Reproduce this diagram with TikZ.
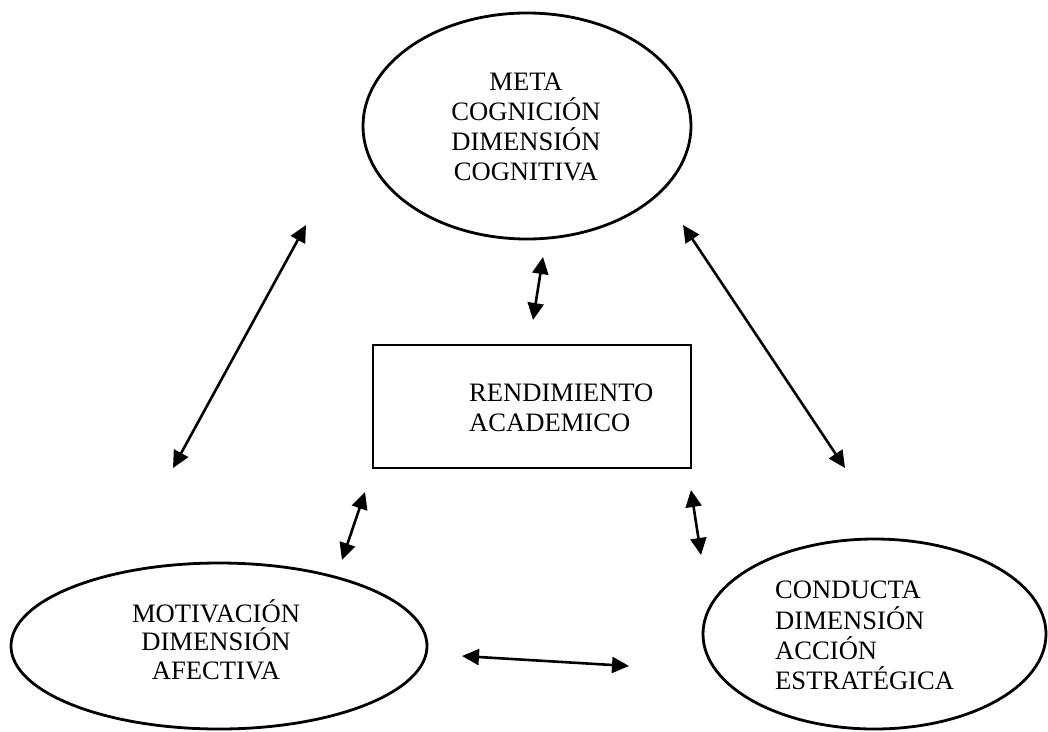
\documentclass[tikz,border=0pt]{standalone}
\usepackage{fontspec}
\setmainfont{Liberation Serif}
\usetikzlibrary{shapes.geometric,arrows.meta}
\tikzset{
  oval/.style={draw, ellipse, line width=2.8pt, inner sep=0pt},
  boxnode/.style={draw, rectangle, line width=2.8pt, inner sep=0pt},
  lbl/.style={inner sep=0pt, font=\fontsize{26.6}{30.2}\selectfont},
  link/.style={line width=2.6pt, {Triangle[length=17pt,width=16pt]}-{Triangle[length=17pt,width=16pt]}}
}
\begin{document}
\begin{tikzpicture}[x=1pt,y=-1pt]
\useasboundingbox (0,0) rectangle (1048,731);
% shapes
\node[oval, minimum width=328pt, minimum height=226pt] (meta) at (527,126) {};
\node[oval, minimum width=416pt, minimum height=166pt] (moti) at (219,646) {};
\node[oval, minimum width=343pt, minimum height=190pt] (cond) at (874.5,634) {};
\node[boxnode, minimum width=318pt, minimum height=123pt] (rend) at (532,406.5) {};
% texts
\node[lbl, align=center, anchor=south] (metat) at (526,181.5) {META\\COGNICIÓN\\DIMENSIÓN\\COGNITIVA};
\node[lbl, align=center, anchor=south, font=\fontsize{26.6}{28.7}\selectfont] (motit) at (216,680) {MOTIVACIÓN\\DIMENSIÓN\\AFECTIVA};
\node[lbl, align=left, anchor=south west] (condt) at (775,690) {CONDUCTA\\DIMENSIÓN\\ACCIÓN\\ESTRATÉGICA};
\node[lbl, align=left, anchor=south west] (rendt) at (469,432) {RENDIMIENTO\\ACADEMICO};
% arrow end points
\coordinate (a1) at (306,225);
\coordinate (a2) at (173,468);
\coordinate (b1) at (683,225);
\coordinate (b2) at (845,468);
\coordinate (c1) at (543,257);
\coordinate (c2) at (533,320);
\coordinate (d1) at (365,492);
\coordinate (d2) at (342,560);
\coordinate (e1) at (691,490);
\coordinate (e2) at (701,555);
\coordinate (f1) at (462,656);
\coordinate (f2) at (629,666);
% connectors
\draw[link] (a1) -- (a2);
\draw[link] (b1) -- (b2);
\draw[link] (c1) -- (c2);
\draw[link] (d1) -- (d2);
\draw[link] (e1) -- (e2);
\draw[link] (f1) -- (f2);
\end{tikzpicture}
\end{document}
